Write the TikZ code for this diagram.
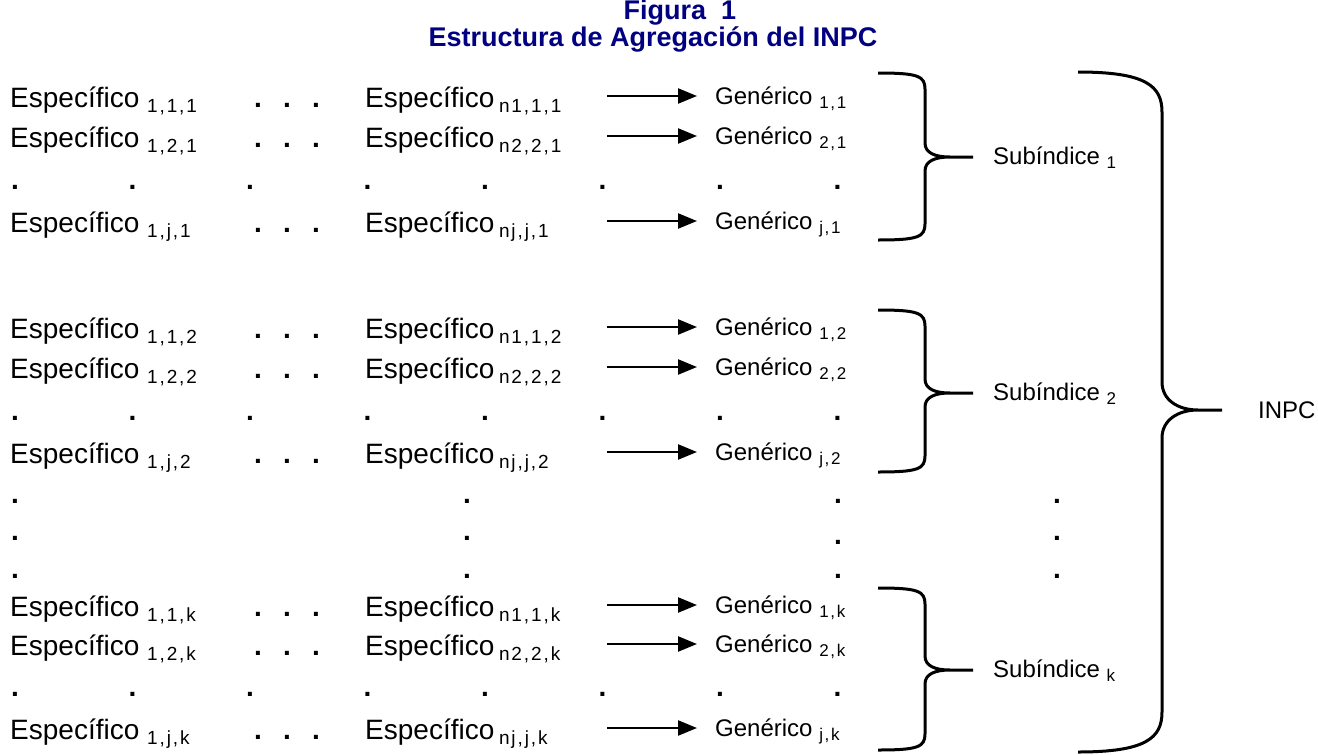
\documentclass[tikz,border=0pt]{standalone}
\usepackage{fontspec}
\setmainfont{Liberation Sans}
\newfontfamily\subfont[LetterSpace=10]{Liberation Sans}
\usetikzlibrary{arrows.meta}
\definecolor{titleblue}{RGB}{0,0,128}
\newcommand{\ssub}[1]{\raisebox{-5pt}{\fontsize{19}{19}\subfont #1}}
\newcommand{\gsub}[1]{\raisebox{-4.5pt}{\fontsize{17}{17}\subfont #1}}
\begin{document}
\begin{tikzpicture}[x=1pt,y=-1pt,
  spec/.style={anchor=base west,inner sep=0pt,font=\fontsize{28}{30}\selectfont},
  gen/.style={anchor=base west,inner sep=0pt,font=\fontsize{24}{26}\selectfont},
  dotn/.style={anchor=base,inner sep=0pt,font=\fontsize{28}{30}\selectfont\bfseries},
  lbl/.style={anchor=base west,inner sep=0pt,font=\fontsize{24}{26}\selectfont},
  ttl/.style={anchor=base,inner sep=0pt,
    font=\fontsize{27}{29}\selectfont\bfseries,text=titleblue},
  arr/.style={line width=2.4pt,-{Triangle[length=19pt,width=15pt]}},
  bracestroke/.style={line width=3pt}]
\useasboundingbox (0,0) rectangle (1318,755);

% title
\node[ttl] (t1) at (680,19) {Figura\ \ 1};
\node[ttl] (t2) at (653,46) {Estructura de Agregación del INPC};

% rows: #1 name, #2 baseline, #3 left sub, #4 right sub, #5 generic sub
\newcommand{\erow}[5]{%
  \node[spec] (l#1) at (10,#2) {Específico \ssub{#3}};
  \node[dotn] (da#1) at (258,#2) {.};
  \node[dotn] (db#1) at (287,#2) {.};
  \node[dotn] (dc#1) at (316,#2) {.};
  \node[spec] (r#1) at (365,#2) {Específico\,\ssub{#4}};
  \node[gen] (g#1) at (715,#2-3) {Genérico \gsub{#5}};
  \coordinate (s#1) at (607,#2-11);
  \coordinate (e#1) at (697,#2-11);
  \draw[arr] (s#1) -- (e#1);
}
\newcommand{\drow}[2]{%
  \foreach \i in {0,...,7}{\node[dotn] (dd#1\i) at (15+117.5*\i,#2) {.};}
}

\erow{11}{107}{1,1,1}{n1,1,1}{1,1}
\erow{21}{147}{1,2,1}{n2,2,1}{2,1}
\drow{1}{189}
\erow{j1}{232}{1,j,1}{nj,j,1}{j,1}

\erow{12}{338}{1,1,2}{n1,1,2}{1,2}
\erow{22}{378}{1,2,2}{n2,2,2}{2,2}
\drow{2}{420}
\erow{j2}{463}{1,j,2}{nj,j,2}{j,2}

\foreach \yy/\yc [count=\n] in {503/503,540/544,578/578}{
  \node[dotn] (va\n) at (15,\yy) {.};
  \node[dotn] (vb\n) at (467,\yy) {.};
  \node[dotn] (vc\n) at (838,\yc) {.};
  \node[dotn] (vd\n) at (1057,\yy) {.};
}

\erow{1k}{616}{1,1,k}{n1,1,k}{1,k}
\erow{2k}{655}{1,2,k}{n2,2,k}{2,k}
\drow{k}{696}
\erow{jk}{739}{1,j,k}{nj,j,k}{j,k}

% small braces
\newcommand{\sbrace}[4]{%
  \draw[bracestroke] (878,#2) .. controls (918,#2) and (925,#2+3) .. (925,#2+16)
    -- (925,#3-14) .. controls (925,#3-4) and (935,#3) .. (950,#3) -- (973,#3)
    (950,#3) .. controls (935,#3) and (925,#3+4) .. (925,#3+14)
    -- (925,#4-16) .. controls (925,#4-3) and (918,#4) .. (878,#4);
  \coordinate (tip#1) at (973,#3);
}
\sbrace{1}{73}{157}{240}
\sbrace{2}{310}{393}{472}
\sbrace{k}{588}{670}{750}

\node[lbl] (sub1) at (993,164) {Subíndice \gsub{1}};
\node[lbl] (sub2) at (993,400) {Subíndice \gsub{2}};
\node[lbl] (subk) at (993,677) {Subíndice \gsub{k}};

% big brace
\draw[bracestroke] (1078,72) .. controls (1146,72) and (1162,86) .. (1162,112)
  -- (1162,382) .. controls (1162,400) and (1178,410) .. (1198,410) -- (1222,410)
  (1198,410) .. controls (1178,410) and (1162,420) .. (1162,438)
  -- (1162,712) .. controls (1162,738) and (1146,752) .. (1078,752);
\node[lbl] (inpc) at (1258,418) {INPC};
\end{tikzpicture}
\end{document}
